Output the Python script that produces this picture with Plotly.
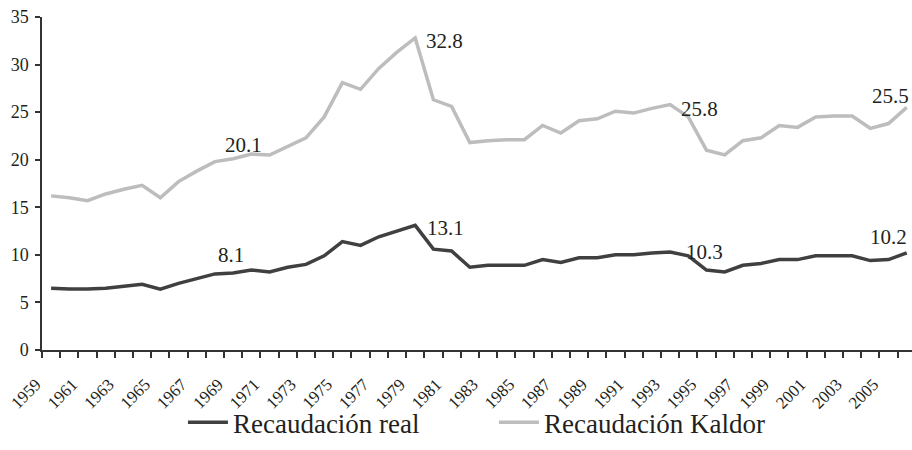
import plotly.graph_objects as go

years = list(range(1959, 2007))
real = [6.5, 6.4, 6.4, 6.5, 6.7, 6.9, 6.4, 7.0, 7.5, 8.0, 8.1, 8.4, 8.2, 8.7, 9.0,
        9.9, 11.4, 11.0, 11.9, 12.5, 13.1, 10.6, 10.4, 8.7, 8.9, 8.9, 8.9, 9.5,
        9.2, 9.7, 9.7, 10.0, 10.0, 10.2, 10.3, 9.9, 8.4, 8.2, 8.9, 9.1, 9.5, 9.5,
        9.9, 9.9, 9.9, 9.4, 9.5, 10.2]
kaldor = [16.2, 16.0, 15.7, 16.4, 16.9, 17.3, 16.0, 17.7, 18.8, 19.8, 20.1, 20.6,
          20.5, 21.4, 22.3, 24.5, 28.1, 27.4, 29.6, 31.3, 32.8, 26.3, 25.6, 21.8,
          22.0, 22.1, 22.1, 23.6, 22.8, 24.1, 24.3, 25.1, 24.9, 25.4, 25.8, 24.5,
          21.0, 20.5, 22.0, 22.3, 23.6, 23.4, 24.5, 24.6, 24.6, 23.3, 23.8, 25.5]
tick_years = years[::2]
tick_labels = [str(y) for y in tick_years]
y_ticks = [0, 5, 10, 15, 20, 25, 30, 35]

font_family = "Liberation Serif"
text_color = "#231f20"
dark = "#404040"
gray = "#bdbdbd"

fig = go.Figure()
fig.add_trace(go.Scatter(x=years, y=real, mode="lines", name="Recaudación real",
                         line=dict(color=dark, width=3.5)))
fig.add_trace(go.Scatter(x=years, y=kaldor, mode="lines", name="Recaudación Kaldor",
                         line=dict(color=gray, width=3.5)))

labels = [
    (1979, kaldor[20], "32.8", "left", "middle", 9, -3),
    (1979, real[20], "13.1", "left", "middle", 10, -3),
    (1969, kaldor[10], "20.1", "center", "bottom", 10, 0),
    (1969, real[10], "8.1", "center", "bottom", -2, 4),
    (1993, kaldor[34], "25.8", "left", "middle", 9, -4),
    (1993, real[34], "10.3", "left", "middle", 14, 0),
    (2006, kaldor[47], "25.5", "right", "bottom", 4, -3),
    (2006, real[47], "10.2", "right", "bottom", 2, 2),
]
for x, y, t, xa, ya, xs, ys in labels:
    fig.add_annotation(x=x, y=y, text=t, showarrow=False, xanchor=xa, yanchor=ya,
                       xshift=xs, yshift=ys,
                       font=dict(family=font_family, size=21, color=text_color))

fig.update_layout(
    width=912, height=450,
    margin=dict(l=42, r=0, t=17, b=100),
    paper_bgcolor="white", plot_bgcolor="white",
    font=dict(family=font_family, color=text_color, size=18),
    showlegend=True,
    legend=dict(orientation="h", x=0.162, xanchor="left", y=-0.145, yanchor="top",
                bgcolor="rgba(0,0,0,0)",
                font=dict(size=27, family=font_family, color=text_color),
                entrywidth=256, itemwidth=40, traceorder="normal"),
)
fig.update_xaxes(
    range=[1958.5, 2006.29], showgrid=False, zeroline=False,
    showline=True, linecolor="#333333", linewidth=1.5,
    tickmode="array", tickvals=tick_years, ticktext=tick_labels,
    ticks="", tickangle=-45, tickfont=dict(size=17),
    ticklabelstandoff=16, ticklabelshift=-15,
    minor=dict(tickmode="linear", tick0=1958.5, dtick=1, ticks="outside",
               ticklen=6, tickwidth=1.5, tickcolor="#333333"),
)
fig.update_yaxes(
    range=[0, 35], showgrid=False, zeroline=False,
    showline=True, linecolor="#333333", linewidth=1.5,
    tickmode="array", tickvals=y_ticks, ticks="outside", ticklen=5,
    tickwidth=1.5, tickcolor="#333333", tickfont=dict(size=18),
    ticklabelstandoff=3,
)

fig.write_html("out.html", config={"displayModeBar": False},
               post_script="document.body.style.margin='0';document.body.style.overflow='hidden';")
